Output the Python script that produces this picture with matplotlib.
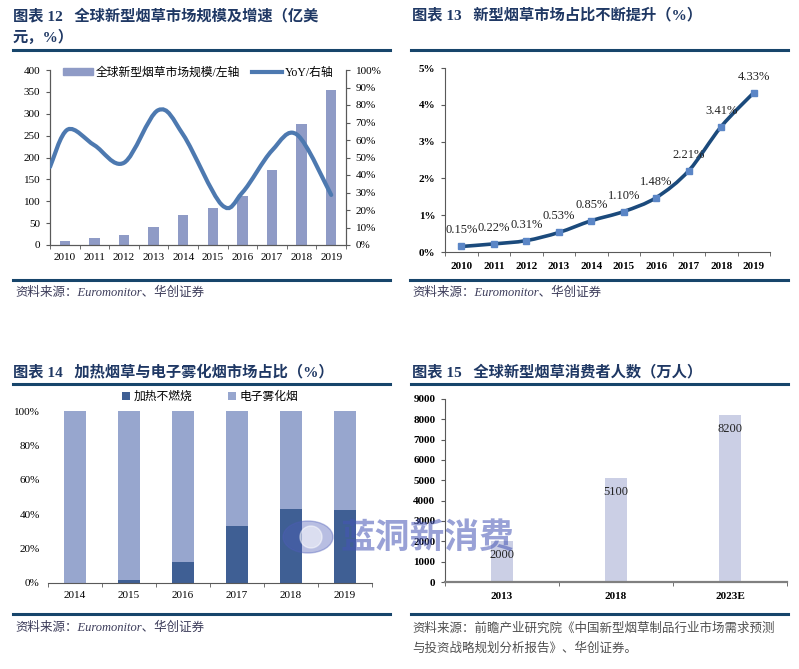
import matplotlib
matplotlib.use("Agg")
import matplotlib.pyplot as plt
import numpy as np
from matplotlib.lines import Line2D
from matplotlib.patches import Patch, PathPatch, Ellipse
from matplotlib.path import Path

W, H = 799, 669

plt.rcParams["font.family"] = ["Liberation Serif", "Noto Sans CJK SC"]
plt.rcParams["axes.unicode_minus"] = False

# ---- 图表12: market size (bars) + YoY (smoothed line nodes)
years_12 = ["2010", "2011", "2012", "2013", "2014", "2015", "2016", "2017", "2018", "2019"]
market_size = [10, 16, 23, 42, 68, 85, 112, 172, 276, 355]
yoy_node_x = [-0.5, 0.1, 1.0, 2.0, 3.15, 4.0, 5.3, 6.0, 7.0, 7.85, 9.0]
yoy_node_pct = [44.6, 66, 57, 47, 77, 63, 23, 30, 54, 63, 28.6]

# ---- 图表13: share of new tobacco
years_13 = ["2010", "2011", "2012", "2013", "2014", "2015", "2016", "2017", "2018", "2019"]
share_pct = [0.15, 0.22, 0.31, 0.53, 0.85, 1.10, 1.48, 2.21, 3.41, 4.33]
share_labels = ["0.15%", "0.22%", "0.31%", "0.53%", "0.85%", "1.10%", "1.48%", "2.21%", "3.41%", "4.33%"]

# ---- 图表14: heated tobacco vs e-cig
years_14 = ["2014", "2015", "2016", "2017", "2018", "2019"]
heated_pct = [0, 2, 12, 33, 43, 42.5]
ecig_pct = [100, 98, 88, 67, 57, 57.5]

# ---- 图表15: consumers (万人)
years_15 = ["2013", "2018", "2023E"]
consumers = [2000, 5100, 8200]

TITLE_C = "#1F3864"
RULE_C = "#17456B"
SRC_C = "#3C3C5A"
AX_C = "#595959"


def fx(px):
    return px / W


def fy(py):
    return 1 - py / H


def box(left, top, right, bottom):
    return [fx(left), fy(bottom), (right - left) / W, (bottom - top) / H]


def rule(fig, x0, x1, y):
    fig.add_artist(Line2D([fx(x0), fx(x1)], [fy(y), fy(y)], color=RULE_C, lw=2.2,
                          transform=fig.transFigure))


def title(fig, x, y, s):
    fig.text(fx(x), fy(y), s, fontsize=11, fontweight="bold", color=TITLE_C,
             ha="left", va="center", linespacing=1.55)


def source(fig, x, y, s, color=SRC_C):
    fig.text(fx(x), fy(y), s, fontsize=9, style="italic", color=color,
             ha="left", va="center")


def smooth_path(xs, ys):
    pts = np.column_stack([xs, ys]).astype(float)
    ext = np.vstack([pts[0], pts, pts[-1]])
    verts = [pts[0]]
    codes = [Path.MOVETO]
    for i in range(len(pts) - 1):
        p0, p1, p2, p3 = ext[i], ext[i + 1], ext[i + 2], ext[i + 3]
        verts += [p1 + (p2 - p0) / 6, p2 - (p3 - p1) / 6, p2]
        codes += [Path.CURVE4] * 3
    return Path(verts, codes)


def style_cat_axis(ax, n, labels, pad):
    ax.set_xlim(-0.5, n - 0.5)
    ax.set_xticks(range(n))
    ax.set_xticklabels(labels)
    ax.set_xticks(np.arange(-0.5, n, 1.0), minor=True)
    ax.tick_params(axis="x", which="major", length=0, pad=pad, labelsize=8)
    ax.tick_params(axis="x", which="minor", length=3, color=AX_C, direction="out")


fig = plt.figure(figsize=(W / 100, H / 100), dpi=100)

# ================= 图表 12 =================
title(fig, 13, 27, "图表 12   全球新型烟草市场规模及增速（亿美\n元，%）")
rule(fig, 13, 390, 50)
ax1 = fig.add_axes(box(50, 70, 346, 245))
x12 = np.arange(len(years_12))
ax1.bar(x12, market_size, width=0.35, color="#8F9BC6", zorder=2)
ax1.set_ylim(0, 400)
ax1.set_yticks(range(0, 401, 50))
style_cat_axis(ax1, len(years_12), years_12, 6)
ax1.tick_params(axis="y", length=3, pad=4, labelsize=8, color=AX_C)
ax1.spines["top"].set_visible(False)
for s in ["left", "bottom", "right"]:
    ax1.spines[s].set_color(AX_C)
ax1b = ax1.twinx()
ax1b.set_ylim(0, 100)
ax1b.set_yticks(range(0, 101, 10))
ax1b.set_yticklabels([f"{v}%" for v in range(0, 101, 10)])
ax1b.tick_params(axis="y", length=3, pad=4, labelsize=8, color=AX_C)
ax1b.spines["top"].set_visible(False)
for s in ["left", "bottom", "right"]:
    ax1b.spines[s].set_color(AX_C)
ax1b.add_patch(PathPatch(smooth_path(yoy_node_x, yoy_node_pct), fill=False,
                         edgecolor="#4D79B0", lw=3.0, capstyle="round", zorder=3))
h_line = Line2D([], [], color="#4D79B0", lw=3.0)
h_bar = Patch(color="#8F9BC6")
ax1b.legend([h_bar, h_line], ["全球新型烟草市场规模/左轴", "YoY/右轴"], ncol=2,
            loc="center", bbox_to_anchor=(0.5, 0.985), frameon=False, fontsize=8.5,
            handlelength=2.6, handleheight=0.6, columnspacing=1.0, handletextpad=0.2)
rule(fig, 13, 390, 280)
source(fig, 15, 293, "资料来源：Euromonitor、华创证券")

# ================= 图表 13 =================
title(fig, 412, 15, "图表 13   新型烟草市场占比不断提升（%）")
rule(fig, 411, 788, 50)
ax2 = fig.add_axes(box(445, 68, 770, 252))
x13 = np.arange(len(years_13))
ax2.add_patch(PathPatch(smooth_path(x13, share_pct), fill=False,
                        edgecolor="#1B4A7C", lw=2.6, capstyle="round", zorder=2))
ax2.plot(x13, share_pct, ls="none", marker="s", ms=4.5, color="#5B86C6", zorder=3)
for xi, v, lab in zip(x13, share_pct, share_labels):
    ax2.annotate(lab, (xi, v), xytext=(0, 16), textcoords="offset pixels",
                 ha="center", va="center", fontsize=9, color="#222222")
ax2.set_ylim(0, 5)
ax2.set_yticks(range(0, 6))
ax2.set_yticklabels([f"{v}%" for v in range(0, 6)], fontweight="bold")
style_cat_axis(ax2, len(years_13), years_13, 7)
for t in ax2.get_xticklabels():
    t.set_fontweight("bold")
ax2.tick_params(axis="y", length=3, pad=4, labelsize=8, color=AX_C)
ax2.spines["top"].set_visible(False)
ax2.spines["right"].set_visible(False)
ax2.spines["left"].set_color(AX_C)
ax2.spines["bottom"].set_color(AX_C)
rule(fig, 410, 788, 280)
source(fig, 412, 293, "资料来源：Euromonitor、华创证券")

# ================= 图表 14 =================
title(fig, 13, 372, "图表 14   加热烟草与电子雾化烟市场占比（%）")
rule(fig, 13, 390, 384)
ax3 = fig.add_axes(box(48, 411, 372, 583))
x14 = np.arange(len(years_14))
ax3.bar(x14, heated_pct, width=0.4, color="#3F5F94", label="加热不燃烧", zorder=2)
ax3.bar(x14, ecig_pct, width=0.4, bottom=heated_pct, color="#97A6CE", label="电子雾化烟", zorder=2)
ax3.set_ylim(0, 100)
ax3.set_yticks(range(0, 101, 20))
ax3.set_yticklabels([f"{v}%" for v in range(0, 101, 20)])
style_cat_axis(ax3, len(years_14), years_14, 6)
ax3.tick_params(axis="y", length=0, pad=6, labelsize=8)
for s in ["top", "right", "left"]:
    ax3.spines[s].set_visible(False)
ax3.spines["bottom"].set_color(AX_C)
ax3.legend(ncol=2, loc="center", bbox_to_anchor=(0.5, 1.08), frameon=False, fontsize=8.5,
           handlelength=0.7, handleheight=0.7, columnspacing=3.0, handletextpad=0.3)
rule(fig, 13, 390, 614)
source(fig, 15, 628, "资料来源：Euromonitor、华创证券")

# ================= 图表 15 =================
title(fig, 412, 372, "图表 15   全球新型烟草消费者人数（万人）")
rule(fig, 411, 788, 384)
ax4 = fig.add_axes(box(445, 399, 787, 582))
x15 = np.arange(len(years_15))
ax4.bar(x15, consumers, width=0.2, color="#CBCFE5", zorder=2)
for xi, v in zip(x15, consumers):
    ax4.annotate(f"{v}", (xi, v), xytext=(0, -14), textcoords="offset pixels",
                 ha="center", va="center", fontsize=9, color="#222222", zorder=13)
ax4.set_ylim(0, 9000)
ax4.set_yticks(range(0, 9001, 1000))
style_cat_axis(ax4, len(years_15), years_15, 7)
for t in ax4.get_xticklabels() + ax4.get_yticklabels():
    t.set_fontweight("bold")
ax4.tick_params(axis="y", length=3, pad=4, labelsize=8, color=AX_C)
ax4.spines["top"].set_visible(False)
ax4.spines["right"].set_visible(False)
ax4.spines["left"].set_color(AX_C)
ax4.spines["bottom"].set_color("#808080")
ax4.spines["bottom"].set_linewidth(1.6)
rule(fig, 411, 788, 614)
source(fig, 412, 629, "资料来源：前瞻产业研究院《中国新型烟草制品行业市场需求预测", color="#505050")
source(fig, 412, 649, "与投资战略规划分析报告》、华创证券。", color="#505050")

# ---- watermark
fig.add_artist(Ellipse((fx(308), fy(537)), 50 / W, 32 / H, transform=fig.transFigure,
                       color="#4E5DB8", alpha=0.4, zorder=10))
fig.add_artist(Ellipse((fx(311), fy(537)), 22 / W, 22 / H, transform=fig.transFigure,
                       color="white", alpha=0.5, zorder=11))
fig.text(fx(340), fy(537), "蓝洞新消费", fontsize=25, fontweight="bold",
         color="#4555B5", alpha=0.55, ha="left", va="center", zorder=12,
         family=["Noto Sans CJK SC"])

fig.savefig("out.png", dpi=100)
